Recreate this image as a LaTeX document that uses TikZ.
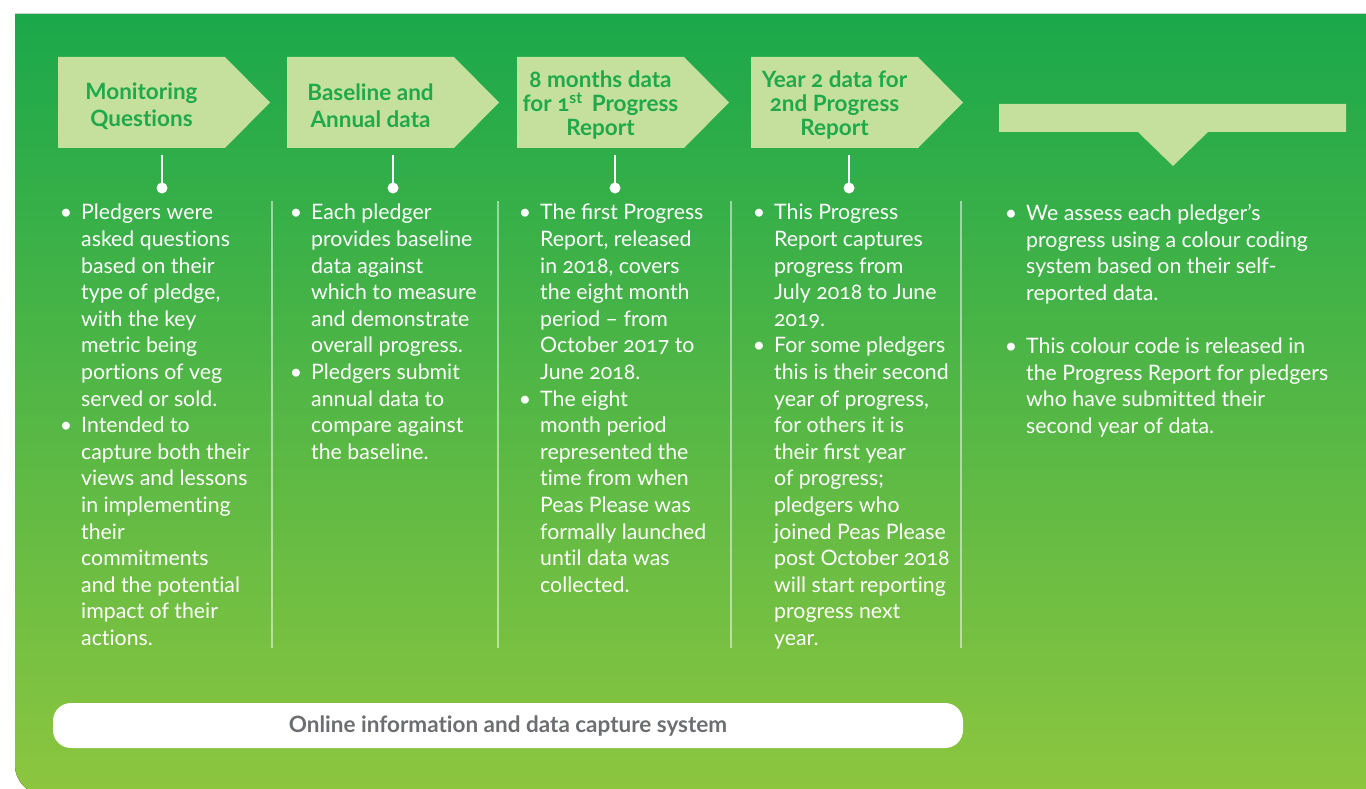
\documentclass[tikz,border=0pt]{standalone}
\usepackage{fontspec}
\setmainfont[Numbers=OldStyle,Ligatures=NoCommon]{Lato}
\usepackage{tikz}

\definecolor{topgreen}{HTML}{1AA84B}
\definecolor{botgreen}{HTML}{8DC63F}
\definecolor{pale}{HTML}{C5E09C}
\definecolor{headgreen}{HTML}{1FA94A}
\definecolor{bargray}{HTML}{6D6E71}

\tikzset{
  head/.style={text=headgreen,font=\bfseries\fontsize{22.5}{24}\selectfont,align=center,inner sep=0pt},
  body/.style={text=white,font=\fontsize{21.3}{26.6}\selectfont,align=left,anchor=north west,inner sep=0pt},
  dot/.style={circle,fill=white,minimum size=11pt,inner sep=0pt},
  stem/.style={white,line width=2.5pt},
  divider/.style={white,opacity=0.5,line width=2pt},
  bar/.style={fill=white,rounded corners=18pt,minimum width=910pt,minimum height=45pt,
    text height=14pt,text depth=1pt,
    text=bargray,font=\bfseries\fontsize{22.5}{24}\selectfont}
}
\newcommand{\bul}{\llap{\textbullet\hspace{9pt}}}

\begin{document}
\begin{tikzpicture}[x=1pt,y=-1pt]
\useasboundingbox (0,0) rectangle (1366,789);
% green panel, only the lower left corner is round
\fill[top color=topgreen,bottom color=botgreen] (15,14) -- (1366,14) -- (1366,795)
  [rounded corners=30pt] -- (15,795) [sharp corners] -- cycle;

% the four stage arrows
\foreach \x in {58,287,517,751}
  \fill[pale] (\x,57) -- (\x+167,57) -- (\x+212,102.5) -- (\x+167,148) -- (\x,148) -- cycle;
\node[head,font=\bfseries\fontsize{22.5}{27}\selectfont] (h1) at (141.5,106) {Monitoring\\Questions};
\node[head,font=\bfseries\fontsize{22.5}{27}\selectfont] (h2) at (370.5,106) {Baseline and\\Annual data};
\node[head] (h3) at (600.5,105) {8 months data\\for 1\textsuperscript{st}\, Progress\\Report};
\node[head] (h4) at (834.5,105) {Year 2 data for\\2nd Progress\\Report};

% banner over the last column
\fill[pale] (999,104) -- (1346,104) -- (1346,132) -- (1208,132) -- (1173,166)
  -- (1138,132) -- (999,132) -- cycle;

% stems with dots under the arrows
\node[dot] (d1) at (162,188) {};
\node[dot] (d2) at (393,188) {};
\node[dot] (d3) at (615,188) {};
\node[dot] (d4) at (849,188) {};
\foreach \n in {1,2,3,4}
  \draw[stem] (d\n.center) -- ++(0,-33);

% column rules
\foreach \x in {272,498,731,961}
  \draw[divider] (\x,201) -- (\x,648);

\node[body] (c1) at (81,204) {\bul Pledgers were\\asked questions\\based on their\\type of pledge,\\with the key\\metric being\\portions of veg\\served or sold.\\
\bul Intended to\\capture both their\\views and lessons\\in implementing\\their\\commitments\\and the potential\\impact of their\\actions.};
\node[body] (c2) at (311,204) {\bul Each pledger\\provides baseline\\data against\\which to measure\\and demonstrate\\overall progress.\\
\bul Pledgers submit\\annual data to\\compare against\\the baseline.};
\node[body] (c3) at (540,204) {\bul The ﬁrst Progress\\Report, released\\in 2018, covers\\the eight month\\period -- from\\October 2017 to\\June 2018.\\
\bul The eight\\month period\\represented the\\time from when\\Peas Please was\\formally launched\\until data was\\collected.};
\node[body] (c4) at (774,204) {\bul This Progress\\Report captures\\progress from\\July 2018 to June\\2019.\\
\bul For some pledgers\\this is their second\\year of progress,\\for others it is\\their ﬁrst year\\of progress;\\pledgers who\\joined Peas Please\\post October 2018\\will start reporting\\progress next\\year.};
\node[body] (c5) at (1026,204) {\bul We assess each pledger’s\\progress using a colour coding\\system based on their self-\\reported data.\\[26.6pt]
\bul This colour code is released in\\the Progress Report for pledgers\\who have submitted their\\second year of data.};

% data capture bar
\node[bar] (sys) at (508,725.5) {Online information and data capture system};
\end{tikzpicture}
\end{document}
